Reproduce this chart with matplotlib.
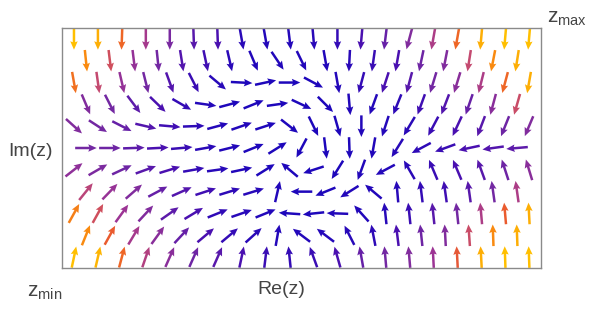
import numpy as np
import matplotlib
matplotlib.use("Agg")
import matplotlib.pyplot as plt
from matplotlib.colors import LinearSegmentedColormap

plt.rcParams["font.family"] = ["Liberation Sans", "DejaVu Sans"]
plt.rcParams["mathtext.fontset"] = "custom"
plt.rcParams["mathtext.rm"] = "Liberation Sans"

# arrow directions (degrees, 0 = +Re, 90 = +Im), one list per row, top row first.
# even rows have 20 arrows, odd rows are staggered by half a step and have 19.
angles = [
    [-90, -90, -92, -90, -90, -88, -88, -80, -80, -83, -85, -90, -95, -97, -105, -100, -100, -95, -95, -95],
    [-84, -83, -83, -84, -81, -78, -77, -67, -56, -64, -80, -93, -98, -100, -102, -101, -99, -101, -99],
    [-80, -82, -77, -76, -70, -63, -40, -3, 12, 0, -28, -80, -105, -108, -105, -107, -107, -104, -105, -100],
    [-67, -63, -53, -44, -30, -8, 15, 22, 8, -25, -45, -85, -110, -112, -110, -111, -109, -105, -106],
    [-42, -33, -27, -13, -5, 2, 15, 19, 18, -38, -64, -74, -90, -108, -121, -118, -115, -111, -112, -113],
    [0, 0, 2, 3, 5, 10, 14, 22, 32, -118, -83, -88, -100, -122, -152, -160, -168, -172, -175],
    [38, 30, 25, 20, 17, 10, 8, 12, 32, 140, -162, -122, -110, -152, 120, 113, 113, 110, 108, 107],
    [51, 46, 41, 28, 24, 18, 17, 17, 77, 180, -158, -148, 140, 95, 97, 98, 98, 98, 98],
    [61, 61, 54, 47, 35, 31, 22, 19, 22, 176, -174, 178, 132, 96, 96, 96, 96, 95, 95, 93],
    [68, 61, 59, 54, 47, 40, 40, 42, 80, 143, 143, 117, 101, 97, 96, 93, 94, 92, 92],
    [78, 77, 75, 71, 66, 66, 66, 78, 83, 96, 110, 106, 100, 95, 95, 93, 93, 93, 92, 92],
]

# relative magnitude (0 = smallest, 1 = largest), same layout
magnitude = [
    [1.0, 0.95, 0.75, 0.48, 0.32, 0.2, 0.15, 0.05, 0.03, 0.03, 0.05, 0.08, 0.15, 0.25, 0.35, 0.5, 0.75, 0.95, 1.0, 1.0],
    [0.85, 0.62, 0.42, 0.3, 0.18, 0.12, 0.05, 0.02, 0.02, 0.02, 0.02, 0.05, 0.1, 0.15, 0.28, 0.35, 0.58, 0.85, 0.95],
    [0.78, 0.58, 0.42, 0.3, 0.18, 0.1, 0.04, 0.01, 0.01, 0.01, 0.01, 0.03, 0.08, 0.15, 0.2, 0.3, 0.38, 0.5, 0.75, 0.95],
    [0.35, 0.3, 0.22, 0.15, 0.08, 0.03, 0.01, 0.01, 0.01, 0.01, 0.01, 0.02, 0.03, 0.06, 0.12, 0.18, 0.26, 0.38, 0.6],
    [0.35, 0.3, 0.25, 0.18, 0.12, 0.06, 0.03, 0.02, 0.01, 0.01, 0.01, 0.01, 0.02, 0.03, 0.05, 0.1, 0.15, 0.2, 0.28, 0.35],
    [0.3, 0.28, 0.22, 0.15, 0.1, 0.05, 0.02, 0.01, 0.01, 0.01, 0.01, 0.01, 0.02, 0.04, 0.06, 0.1, 0.15, 0.18, 0.22],
    [0.4, 0.33, 0.28, 0.2, 0.15, 0.08, 0.04, 0.02, 0.01, 0.01, 0.01, 0.01, 0.02, 0.03, 0.05, 0.1, 0.15, 0.2, 0.28, 0.38],
    [0.55, 0.43, 0.35, 0.25, 0.18, 0.12, 0.06, 0.04, 0.02, 0.01, 0.01, 0.02, 0.02, 0.04, 0.08, 0.12, 0.2, 0.3, 0.5],
    [0.82, 0.62, 0.45, 0.35, 0.22, 0.15, 0.07, 0.04, 0.02, 0.01, 0.01, 0.02, 0.02, 0.04, 0.1, 0.2, 0.3, 0.5, 0.72, 0.95],
    [0.85, 0.72, 0.48, 0.38, 0.25, 0.15, 0.08, 0.05, 0.03, 0.03, 0.03, 0.04, 0.06, 0.15, 0.28, 0.35, 0.6, 0.85, 0.95],
    [1.0, 0.97, 0.75, 0.52, 0.38, 0.28, 0.2, 0.15, 0.1, 0.08, 0.1, 0.15, 0.25, 0.3, 0.35, 0.45, 0.7, 0.95, 1.0, 1.0],
]

x_range = (-2.0, 2.0)
y_range = (-1.0, 1.0)

cmap = LinearSegmentedColormap.from_list(
    "vec",
    [(0.0, "#1c06bc"), (0.15, "#4a10b0"), (0.3, "#7428a2"), (0.45, "#9c3494"),
     (0.58, "#c44a70"), (0.72, "#ea5a2e"), (0.85, "#f98a10"), (1.0, "#ffbf00")],
)

# staggered sample grid
nrows = len(angles)
step = 0.2
xs, ys, us, vs, cs = [], [], [], [], []
for j, (row_a, row_m) in enumerate(zip(angles, magnitude)):
    y = y_range[1] - (j + 0.5) * (y_range[1] - y_range[0]) / nrows
    x0 = x_range[0] + (step / 2 if j % 2 == 0 else step)
    for i, (a, m) in enumerate(zip(row_a, row_m)):
        xs.append(x0 + i * step)
        ys.append(y)
        us.append(np.cos(np.radians(a)))
        vs.append(np.sin(np.radians(a)))
        cs.append(m)

arrow_len = 0.18
us = np.array(us) * arrow_len
vs = np.array(vs) * arrow_len

fig = plt.figure(figsize=(6.0, 3.1), dpi=100)
ax = fig.add_axes([62 / 600, 1 - 268 / 310, 479 / 600, 240 / 310])
ax.quiver(xs, ys, us, vs, cs, cmap=cmap, clim=(0, 1),
          angles="xy", scale_units="xy", scale=1, pivot="middle",
          width=0.0052, headwidth=3.0, headlength=3.4, headaxislength=3.0)
ax.set_xlim(*x_range)
ax.set_ylim(*y_range)
ax.set_xticks([])
ax.set_yticks([])
for s in ax.spines.values():
    s.set_color("#8a8a8a")
    s.set_linewidth(1.0)

txt = "#444444"
fig.text(53 / 600, 1 - 152 / 310, "Im(z)", ha="right", va="center", fontsize=14, color=txt)
fig.text(281 / 600, 1 - 289 / 310, "Re(z)", ha="center", va="center", fontsize=14, color=txt)
fig.text(27 / 600, 1 - 297 / 310, r"$\mathregular{z_{min}}$", ha="left", va="baseline", fontsize=15, color=txt)
fig.text(547 / 600, 1 - 23 / 310, r"$\mathregular{z_{max}}$", ha="left", va="baseline", fontsize=15, color=txt)

fig.savefig("out.png", dpi=100)
